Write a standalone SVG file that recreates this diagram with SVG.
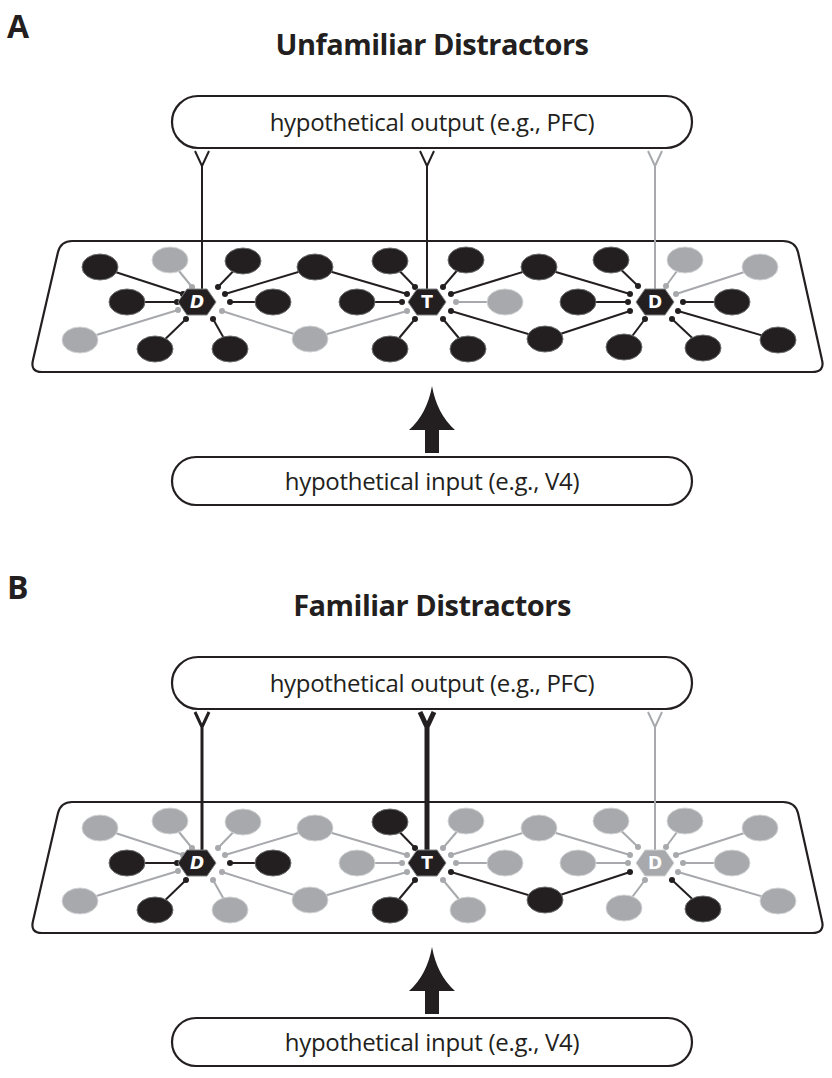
<svg xmlns="http://www.w3.org/2000/svg" width="832" height="1078" viewBox="0 0 832 1078">
<style>
text{font-family:"Open Sans","Liberation Sans",sans-serif;fill:#231f20}
.lbl{font-size:24px;text-anchor:middle;letter-spacing:-0.3px}
.ttl{font-size:29px;font-weight:bold;text-anchor:middle;letter-spacing:-0.5px}
.pl{font-size:32px;font-weight:bold}
.box{fill:#fff;stroke:#231f20;stroke-width:2.2}
.plane{fill:#fff;stroke:#231f20;stroke-width:2.2}
.k{stroke:#231f20;stroke-width:2;fill:none}
.g{stroke:#a7a9ac;stroke-width:2;fill:none}
.dk{fill:#231f20}
.dg{fill:#a7a9ac}
.nk{fill:#231f20;stroke:#6d6e71;stroke-width:1}
.ng{fill:#a7a9ac;stroke:#d1d3d4;stroke-width:1}
.hk{fill:#231f20;stroke:#808285;stroke-width:1}
.hg{fill:#a7a9ac;stroke:#d1d3d4;stroke-width:1}
.hl{font-family:"DejaVu Sans","Liberation Sans",sans-serif;font-size:17px;font-weight:bold;fill:#fff;text-anchor:middle}
ellipse{rx:18px;ry:13px}
</style>
<defs>
<polygon id="hex" points="-19,0 -10,-13 10,-13 19,0 10,13 -10,13"/>
</defs>

<!-- Panel A -->
<g id="panelA">
<text class="pl" x="7" y="38">A</text>
<text class="ttl" x="432" y="55">Unfamiliar Distractors</text>
<g id="outA"><rect class="box" x="172" y="96" width="520" height="52" rx="26"/><text class="lbl" x="432" y="131">hypothetical output (e.g., PFC)</text></g>
<g id="inA"><rect class="box" x="172" y="457" width="520" height="48" rx="24"/><text class="lbl" x="432" y="490">hypothetical input (e.g., V4)</text></g>
<path id="planeA" class="plane" d="M72,241 L783,241 Q795,241 798,252 L822,360 Q825,372 812,372 L42,372 Q30,372 33,360 L58,252 Q61,241 72,241 Z"/>
<g id="connA">
<path class="k" d="M202,290 V166 L195,151 M202,166 L209,151"/>
<path class="k" d="M427,290 V166 L420,151 M427,166 L434,151"/>
<path class="g" d="M655,290 V166 L648,151 M655,166 L662,151"/>
<path d="M425,453 V430 H409 Q427,414 432,386 Q437,414 455,430 H439 V453 Z" fill="#231f20"/>
<g class="k">
<path d="M100,267 L183,294"/><path d="M243,261 L218,287"/><path d="M315,267 L225,294 M315,267 L407,294"/>
<path d="M127,302 L177,302"/><path d="M273,302 L230,302"/><path d="M155,349 L186,319"/><path d="M230,349 L213,319"/>
<path d="M390,261 L415,287"/><path d="M357,302 L402,302"/><path d="M390,349 L415,319"/>
<path d="M466,260 L443,287"/><path d="M539,267 L451,294 M539,267 L630,294"/><path d="M545,339 L451,311 M545,339 L630,311"/><path d="M468,349 L443,319"/>
<path d="M611,260 L638,286"/><path d="M578,302 L628,302"/><path d="M624,347 L645,319"/>
<path d="M732,302 L683,302"/><path d="M703,348 L672,319"/><path d="M778,340 L678,311"/>
</g>
<g class="g">
<path d="M170,260 L192,287"/><path d="M80,340 L178,310"/><path d="M310,339 L222,311 M310,339 L407,311"/>
<path d="M505,302 L456,302"/><path d="M685,260 L666,286"/><path d="M760,267 L676,294"/>
</g>
<g class="dk">
<circle cx="183" cy="294" r="3"/><circle cx="218" cy="287" r="3"/><circle cx="225" cy="294" r="3"/><circle cx="407" cy="294" r="3"/>
<circle cx="177" cy="302" r="3"/><circle cx="230" cy="302" r="3"/><circle cx="186" cy="319" r="3"/><circle cx="213" cy="319" r="3"/>
<circle cx="415" cy="287" r="3"/><circle cx="402" cy="302" r="3"/><circle cx="415" cy="319" r="3"/>
<circle cx="443" cy="287" r="3"/><circle cx="451" cy="294" r="3"/><circle cx="630" cy="294" r="3"/><circle cx="451" cy="311" r="3"/><circle cx="630" cy="311" r="3"/><circle cx="443" cy="319" r="3"/>
<circle cx="638" cy="286" r="3"/><circle cx="628" cy="302" r="3"/><circle cx="645" cy="319" r="3"/>
<circle cx="683" cy="302" r="3"/><circle cx="672" cy="319" r="3"/><circle cx="678" cy="311" r="3"/>
</g>
<g class="dg">
<circle cx="192" cy="287" r="3"/><circle cx="178" cy="310" r="3"/><circle cx="222" cy="311" r="3"/><circle cx="407" cy="311" r="3"/>
<circle cx="456" cy="302" r="3"/><circle cx="666" cy="286" r="3"/><circle cx="676" cy="294" r="3"/>
</g>
</g>
<g id="neuronsA">
<ellipse class="nk" cx="100" cy="267" rx="18" ry="13"/><ellipse class="ng" cx="170" cy="260" rx="18" ry="13"/><ellipse class="nk" cx="243" cy="261" rx="18" ry="13"/><ellipse class="nk" cx="315" cy="267" rx="18" ry="13"/>
<ellipse class="nk" cx="127" cy="302" rx="18" ry="13"/><ellipse class="nk" cx="273" cy="302" rx="18" ry="13"/><ellipse class="ng" cx="80" cy="340" rx="18" ry="13"/><ellipse class="nk" cx="155" cy="349" rx="18" ry="13"/>
<ellipse class="nk" cx="230" cy="349" rx="18" ry="13"/><ellipse class="ng" cx="310" cy="339" rx="18" ry="13"/><ellipse class="nk" cx="390" cy="261" rx="18" ry="13"/><ellipse class="nk" cx="357" cy="302" rx="18" ry="13"/>
<ellipse class="nk" cx="390" cy="349" rx="18" ry="13"/><ellipse class="nk" cx="466" cy="260" rx="18" ry="13"/><ellipse class="nk" cx="539" cy="267" rx="18" ry="13"/><ellipse class="ng" cx="505" cy="302" rx="18" ry="13"/>
<ellipse class="nk" cx="545" cy="339" rx="18" ry="13"/><ellipse class="nk" cx="468" cy="349" rx="18" ry="13"/><ellipse class="nk" cx="611" cy="260" rx="18" ry="13"/><ellipse class="nk" cx="578" cy="302" rx="18" ry="13"/>
<ellipse class="nk" cx="624" cy="347" rx="18" ry="13"/><ellipse class="ng" cx="685" cy="260" rx="18" ry="13"/><ellipse class="ng" cx="760" cy="267" rx="18" ry="13"/><ellipse class="nk" cx="732" cy="302" rx="18" ry="13"/>
<ellipse class="nk" cx="703" cy="348" rx="18" ry="13"/><ellipse class="nk" cx="778" cy="340" rx="18" ry="13"/>
</g>
<g id="hexA1" transform="translate(197,302)"><use href="#hex" class="hk"/><text class="hl" y="6" font-style="italic">D</text></g>
<g id="hexAT" transform="translate(427,302)"><use href="#hex" class="hk"/><text class="hl" y="6">T</text></g>
<g id="hexA2" transform="translate(655,302)"><use href="#hex" class="hk"/><text class="hl" y="6">D</text></g>
</g>

<!-- Panel B -->
<g id="panelB" transform="translate(0,561)">
<text class="pl" x="7" y="38">B</text>
<text class="ttl" x="432" y="55">Familiar Distractors</text>
<g id="outB"><rect class="box" x="172" y="96" width="520" height="52" rx="26"/><text class="lbl" x="432" y="131">hypothetical output (e.g., PFC)</text></g>
<g id="inB"><rect class="box" x="172" y="457" width="520" height="48" rx="24"/><text class="lbl" x="432" y="490">hypothetical input (e.g., V4)</text></g>
<path id="planeB" class="plane" d="M72,241 L783,241 Q795,241 798,252 L822,360 Q825,372 812,372 L42,372 Q30,372 33,360 L58,252 Q61,241 72,241 Z"/>
<g id="connB">
<path class="k" d="M202,290 V166 L195,151 M202,166 L209,151" style="stroke-width:3"/>
<path class="k" d="M427,290 V166 L420,151 M427,166 L434,151" style="stroke-width:5"/>
<path class="g" d="M655,290 V166 L648,151 M655,166 L662,151"/>
<path d="M425,453 V430 H409 Q427,414 432,386 Q437,414 455,430 H439 V453 Z" fill="#231f20"/>
<g class="g">
<path d="M100,267 L183,294"/><path d="M243,261 L218,287"/><path d="M315,267 L225,294 M315,267 L407,294"/>
<path d="M466,260 L443,287"/><path d="M539,267 L451,294 M539,267 L630,294"/><path d="M468,349 L443,319"/>
<path d="M611,260 L638,286"/><path d="M578,302 L628,302"/><path d="M624,347 L645,319"/>
<path d="M732,302 L683,302"/><path d="M778,340 L678,311"/>
<path d="M170,260 L192,287"/><path d="M80,340 L178,310"/><path d="M310,339 L222,311 M310,339 L407,311"/>
<path d="M505,302 L456,302"/><path d="M685,260 L666,286"/><path d="M760,267 L676,294"/>
<path d="M357,302 L402,302"/><path d="M230,349 L213,319"/>
</g>
<g class="k">
<path d="M127,302 L177,302"/><path d="M273,302 L230,302"/><path d="M155,349 L186,319"/>
<path d="M390,261 L415,287"/><path d="M390,349 L415,319"/>
<path d="M545,339 L451,311 M545,339 L630,311"/><path d="M703,348 L672,319"/>
</g>
<g class="dg">
<circle cx="183" cy="294" r="3"/><circle cx="218" cy="287" r="3"/><circle cx="225" cy="294" r="3"/><circle cx="407" cy="294" r="3"/>
<circle cx="213" cy="319" r="3"/><circle cx="402" cy="302" r="3"/>
<circle cx="443" cy="287" r="3"/><circle cx="451" cy="294" r="3"/><circle cx="630" cy="294" r="3"/><circle cx="443" cy="319" r="3"/>
<circle cx="638" cy="286" r="3"/><circle cx="628" cy="302" r="3"/><circle cx="645" cy="319" r="3"/>
<circle cx="683" cy="302" r="3"/><circle cx="678" cy="311" r="3"/>
<circle cx="192" cy="287" r="3"/><circle cx="178" cy="310" r="3"/><circle cx="222" cy="311" r="3"/><circle cx="407" cy="311" r="3"/>
<circle cx="456" cy="302" r="3"/><circle cx="666" cy="286" r="3"/><circle cx="676" cy="294" r="3"/>
</g>
<g class="dk">
<circle cx="177" cy="302" r="3"/><circle cx="230" cy="302" r="3"/><circle cx="186" cy="319" r="3"/>
<circle cx="415" cy="287" r="3"/><circle cx="415" cy="319" r="3"/>
<circle cx="451" cy="311" r="3"/><circle cx="630" cy="311" r="3"/><circle cx="672" cy="319" r="3"/>
</g>
</g>
<g id="neuronsB">
<ellipse class="ng" cx="100" cy="267" rx="18" ry="13"/><ellipse class="ng" cx="170" cy="260" rx="18" ry="13"/><ellipse class="ng" cx="243" cy="261" rx="18" ry="13"/><ellipse class="ng" cx="315" cy="267" rx="18" ry="13"/>
<ellipse class="nk" cx="127" cy="302" rx="18" ry="13"/><ellipse class="nk" cx="273" cy="302" rx="18" ry="13"/><ellipse class="ng" cx="80" cy="340" rx="18" ry="13"/><ellipse class="nk" cx="155" cy="349" rx="18" ry="13"/>
<ellipse class="ng" cx="230" cy="349" rx="18" ry="13"/><ellipse class="ng" cx="310" cy="339" rx="18" ry="13"/><ellipse class="nk" cx="390" cy="261" rx="18" ry="13"/><ellipse class="ng" cx="357" cy="302" rx="18" ry="13"/>
<ellipse class="nk" cx="390" cy="349" rx="18" ry="13"/><ellipse class="ng" cx="466" cy="260" rx="18" ry="13"/><ellipse class="ng" cx="539" cy="267" rx="18" ry="13"/><ellipse class="ng" cx="505" cy="302" rx="18" ry="13"/>
<ellipse class="nk" cx="545" cy="339" rx="18" ry="13"/><ellipse class="ng" cx="468" cy="349" rx="18" ry="13"/><ellipse class="ng" cx="611" cy="260" rx="18" ry="13"/><ellipse class="ng" cx="578" cy="302" rx="18" ry="13"/>
<ellipse class="ng" cx="624" cy="347" rx="18" ry="13"/><ellipse class="ng" cx="685" cy="260" rx="18" ry="13"/><ellipse class="ng" cx="760" cy="267" rx="18" ry="13"/><ellipse class="ng" cx="732" cy="302" rx="18" ry="13"/>
<ellipse class="nk" cx="703" cy="348" rx="18" ry="13"/><ellipse class="ng" cx="778" cy="340" rx="18" ry="13"/>
</g>
<g id="hexB1" transform="translate(197,302)"><use href="#hex" class="hk"/><text class="hl" y="6" font-style="italic">D</text></g>
<g id="hexBT" transform="translate(427,302)"><use href="#hex" class="hk"/><text class="hl" y="6">T</text></g>
<g id="hexB2" transform="translate(655,302)"><use href="#hex" class="hg"/><text class="hl" y="6">D</text></g>
</g>
</svg>
